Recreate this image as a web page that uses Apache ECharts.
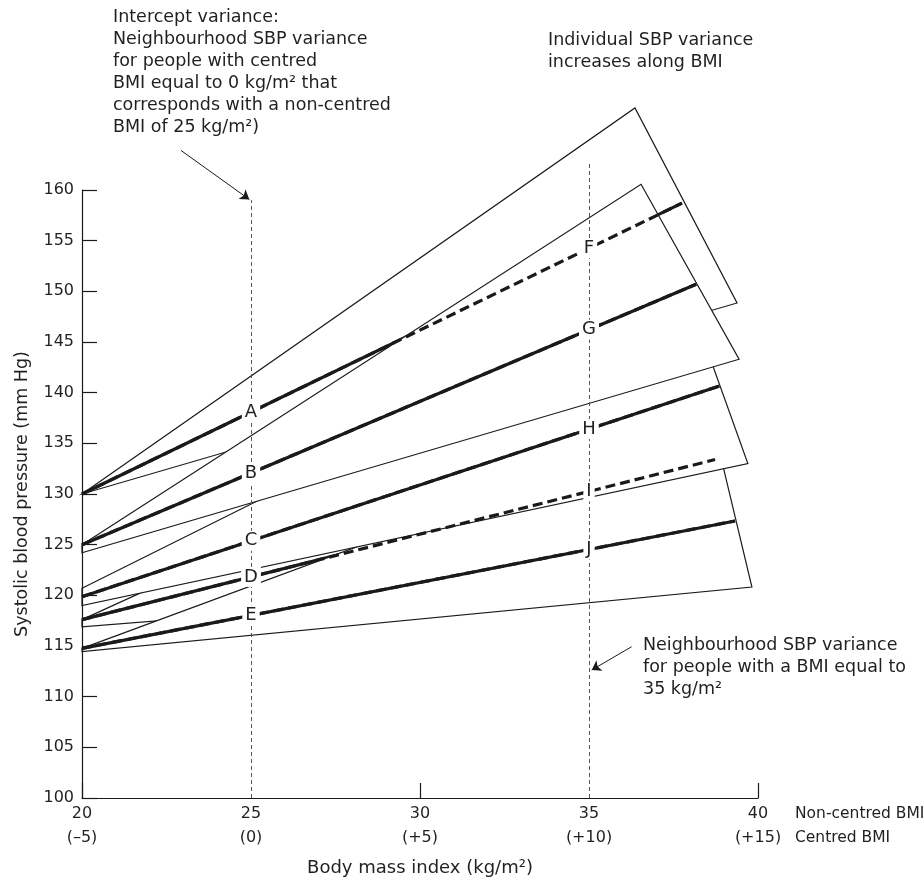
<!DOCTYPE html>
<html>
<head>
<meta charset="utf-8">
<script src="https://cdn.jsdelivr.net/npm/echarts/dist/echarts.min.js"></script>
<style>
  html, body { margin: 0; padding: 0; background: #fff; }
  #chart { width: 924px; height: 888px; }
</style>
</head>
<body>
<div id="chart"></div>
<script>
// ---- Axis ticks ----
const xTickValues = [20, 25, 30, 35, 40];
const xTickLabels = ['20', '25', '30', '35', '40'];
const centredTickLabels = ['(–5)', '(0)', '(+5)', '(+10)', '(+15)'];

// ---- Neighbourhood regression lines (A–F, B–G, C–H, D–I, E–J) ----
const lineStartY = [130, 125, 119.87, 117.6, 114.77];
const lineEndX   = [37.75, 38.17, 38.86, 38.73, 39.32];
const lineEndY   = [158.7, 150.7, 140.66, 133.4, 127.34];

// ---- Individual variance bands (wedges) ----
const bandUpperStartY = [130, 125, 120.7, 117.6, 114.77];
const bandLowerStartY = [130, 124.2, 119.0, 116.9, 114.44];
const bandUpperEndX   = [36.36, 36.54, 37.84, 38.0, 38.61];
const bandUpperEndY   = [168.1, 160.56, 150.33, 145.0, 137.7];
const bandLowerEndX   = [39.38, 39.44, 39.70, 39.2, 39.82];
const bandLowerEndY   = [148.85, 143.3, 133.0, 122.0, 120.82];
const drawOrder = [0, 3, 4, 2, 1]; // back to front

// ---- Letter labels ----
const labelsAt25 = ['A', 'B', 'C', 'D', 'E'];
const labelsAt35 = ['F', 'G', 'H', 'I', 'J'];

// ---- Reference (dashed) verticals ----
const refLineX   = [25, 35];
const refLineTop = [159.0, 162.6];

// ---- Arrows ----
const arrowStartX = [22.93, 36.26];
const arrowStartY = [163.9, 114.93];
const arrowEndX   = [24.95, 35.08];
const arrowEndY   = [159.07, 112.63];

// ---- Notes ----
const noteTopLeft = ['Intercept variance:', 'Neighbourhood SBP variance', 'for people with centred',
  'BMI equal to 0 kg/m² that', 'corresponds with a non-centred', 'BMI of 25 kg/m²)'];
const noteTopRight = ['Individual SBP variance', 'increases along BMI'];
const noteBottomRight = ['Neighbourhood SBP variance', 'for people with a BMI equal to', '35 kg/m²'];
const axisRowNames = ['Non-centred BMI', 'Centred BMI'];

const FONT = '"DejaVu Sans", "Noto Sans", sans-serif';
const INK = '#1a1a1a';
const TXT = '#231f20';

function yAt(k, x) {
  return lineStartY[k] + (lineEndY[k] - lineStartY[k]) * (x - 20) / (lineEndX[k] - 20);
}

const letterData = [];
for (let k = 0; k < 5; k++) {
  letterData.push([25, yAt(k, 25), k, 0]);
  letterData.push([35, yAt(k, 35), k, 1]);
}

const chart = echarts.init(document.getElementById('chart'), null, { renderer: 'canvas' });

const option = {
  backgroundColor: '#ffffff',
  animation: false,
  grid: { left: 82, right: 166, top: 190, bottom: 90, containLabel: false },
  xAxis: [
    {
      type: 'value', min: 20, max: 40, interval: 5, position: 'bottom',
      axisLine: { show: false }, axisTick: { show: false }, splitLine: { show: false },
      axisLabel: {
        show: true, margin: 4, color: TXT, fontFamily: FONT, fontSize: 16, lineHeight: 24,
        showMinLabel: true, showMaxLabel: true, hideOverlap: false,
        formatter: function (v) {
          const i = xTickValues.indexOf(v);
          return i < 0 ? '' : xTickLabels[i] + '\n' + centredTickLabels[i];
        }
      },
      name: 'Body mass index (kg/m²)', nameLocation: 'middle', nameGap: 61,
      nameTextStyle: { color: TXT, fontFamily: FONT, fontSize: 18 },
      z: 10
    },
    {
      type: 'value', min: 20, max: 40, interval: 10, position: 'bottom',
      axisLine: { show: true, lineStyle: { color: INK, width: 1.2 } },
      axisTick: { show: true, inside: true, length: 15, lineStyle: { color: INK, width: 1.2 } },
      axisLabel: { show: false }, splitLine: { show: false },
      z: 10
    }
  ],
  yAxis: {
    type: 'value', min: 100, max: 160, interval: 5,
    axisLine: { show: true, lineStyle: { color: INK, width: 1.2 } },
    axisTick: { show: true, inside: true, length: 15, lineStyle: { color: INK, width: 1.2 } },
    axisLabel: { color: TXT, fontFamily: FONT, fontSize: 16, margin: 8 },
    splitLine: { show: false },
    name: 'Systolic blood pressure (mm Hg)', nameLocation: 'middle', nameGap: 51, nameRotate: 90,
    nameTextStyle: { color: TXT, fontFamily: FONT, fontSize: 17.5 },
    z: 10
  },
  series: [
    {
      type: 'custom', name: 'bands', coordinateSystem: 'cartesian2d', xAxisIndex: 0, yAxisIndex: 0,
      clip: false, z: 2, silent: true,
      data: drawOrder.map(k => [20, 100, k]),
      encode: { x: 0, y: 1 },
      renderItem: function (params, api) {
        const k = api.value(2);
        const p1 = api.coord([20, bandUpperStartY[k]]);
        const p2 = api.coord([bandUpperEndX[k], bandUpperEndY[k]]);
        const p3 = api.coord([bandLowerEndX[k], bandLowerEndY[k]]);
        const p4 = api.coord([20, bandLowerStartY[k]]);
        const s = api.coord([20, lineStartY[k]]);
        const e = api.coord([lineEndX[k], lineEndY[k]]);
        return {
          type: 'group',
          children: [
            { type: 'polygon', shape: { points: [p1, p2, p3, p4] },
              style: { fill: '#ffffff', stroke: INK, lineWidth: 1.2, lineJoin: 'miter' } },
            { type: 'line', shape: { x1: s[0], y1: s[1], x2: e[0], y2: e[1] },
              style: { stroke: INK, lineWidth: 3.2, fill: null } }
          ]
        };
      }
    },
    {
      type: 'lines', name: 'hidden parts', coordinateSystem: 'cartesian2d', xAxisIndex: 0, yAxisIndex: 0,
      clip: false, z: 3, silent: true, polyline: false,
      lineStyle: { color: INK, width: 3.2, type: [10, 5], opacity: 1 },
      data: lineStartY.map((y0, k) => ({ coords: [[20, y0], [lineEndX[k], lineEndY[k]]] }))
    },
    {
      type: 'lines', name: 'reference', coordinateSystem: 'cartesian2d', xAxisIndex: 0, yAxisIndex: 0,
      clip: false, z: 4, silent: true,
      lineStyle: { color: '#555', width: 1, type: [4, 3], opacity: 1 },
      data: refLineX.map((x, i) => ({ coords: [[x, 100], [x, refLineTop[i]]] }))
    },
    {
      type: 'lines', name: 'arrows', coordinateSystem: 'cartesian2d', xAxisIndex: 0, yAxisIndex: 0,
      clip: false, z: 5, silent: true,
      symbol: ['none', 'arrow'], symbolSize: 9,
      lineStyle: { color: INK, width: 1, opacity: 1 },
      data: arrowStartX.map((x, i) => ({ coords: [[x, arrowStartY[i]], [arrowEndX[i], arrowEndY[i]]] }))
    },
    {
      type: 'custom', name: 'letters', coordinateSystem: 'cartesian2d', xAxisIndex: 0, yAxisIndex: 0,
      clip: false, z: 6, silent: true,
      data: letterData,
      encode: { x: 0, y: 1 },
      renderItem: function (params, api) {
        const k = api.value(2);
        const side = api.value(3);
        const p = api.coord([api.value(0), api.value(1)]);
        return {
          type: 'text', x: p[0], y: p[1],
          style: {
            text: side === 0 ? labelsAt25[k] : labelsAt35[k],
            fill: TXT, fontFamily: FONT, fontSize: 18,
            align: 'center', verticalAlign: 'middle',
            backgroundColor: '#ffffff', padding: [1, 3]
          }
        };
      }
    }
  ],
  graphic: [
    { type: 'text', left: 113, top: 6, z: 20,
      style: { text: noteTopLeft.join('\n'), fontFamily: FONT, fontSize: 17.5, lineHeight: 22, fill: TXT } },
    { type: 'text', left: 548, top: 29, z: 20,
      style: { text: noteTopRight.join('\n'), fontFamily: FONT, fontSize: 17.5, lineHeight: 22, fill: TXT } },
    { type: 'text', left: 643, top: 634, z: 20,
      style: { text: noteBottomRight.join('\n'), fontFamily: FONT, fontSize: 17.5, lineHeight: 22, fill: TXT } },
    { type: 'text', left: 795, top: 802, z: 20,
      style: { text: axisRowNames.join('\n'), fontFamily: FONT, fontSize: 15.5, lineHeight: 24, fill: TXT } }
  ]
};

chart.setOption(option);
</script>
</body>
</html>
